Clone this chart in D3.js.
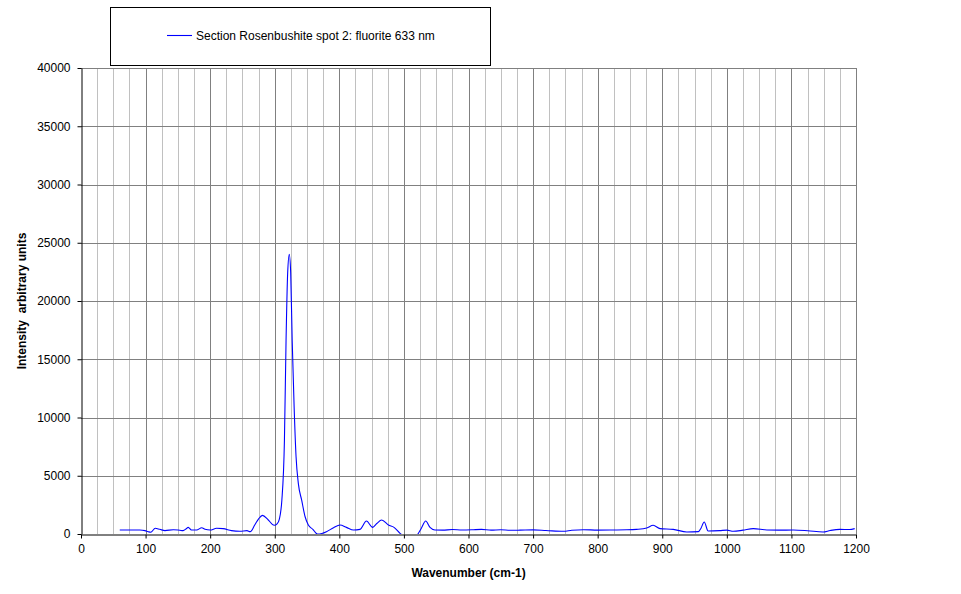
<!DOCTYPE html>
<html>
<head>
<meta charset="utf-8">
<script src="https://cdn.jsdelivr.net/npm/d3@7"></script>
<style>
  html, body { margin: 0; padding: 0; background: #fff; }
  svg { display: block; font-family: "Liberation Sans", Arial, sans-serif; }
</style>
</head>
<body>
<svg id="chart" width="961" height="594"></svg>
<script>
// ---- Data ----
const wavenumbers = [60, 75, 91, 99, 104, 108, 115, 122, 130, 143, 153, 158, 163, 166, 171, 179, 187, 192, 200, 210, 220, 233, 246, 257, 262, 269, 275, 281, 290, 299, 304, 307, 311, 315, 317.5, 320, 322.5, 324.7, 327, 330, 333, 336.5, 341.7, 347, 352, 359, 366, 373, 380, 391, 401, 411, 422, 432, 442, 451.6, 458, 465.6, 476, 484.7, 494, 500, 510, 521, 527, 533.7, 540.4, 548, 560, 575, 590, 605, 620, 635, 650, 665, 680, 700, 720, 747, 760, 778, 800, 824, 845, 860, 876, 886, 896.6, 917, 938, 956, 960, 965, 971, 989, 1000, 1010, 1025, 1041, 1062, 1080, 1103, 1125, 1149, 1160, 1175, 1190, 1198];
const intensities = [340, 340, 340, 290, 200, 150, 490, 400, 290, 370, 320, 290, 450, 570, 340, 340, 540, 400, 340, 490, 460, 290, 230, 290, 200, 770, 1300, 1600, 1200, 745, 900, 1260, 2900, 8070, 16600, 22400, 24000, 22400, 16600, 10900, 6630, 4350, 2900, 1480, 770, 400, 0, 50, 200, 540, 770, 570, 340, 400, 1110, 570, 900, 1200, 770, 570, 60, -200, -400, -50, 500, 1110, 570, 343, 330, 380, 340, 360, 400, 330, 360, 320, 330, 350, 300, 230, 320, 370, 330, 343, 360, 400, 515, 745, 460, 400, 170, 200, 500, 1030, 260, 290, 330, 230, 330, 460, 343, 330, 343, 280, 170, 300, 400, 380, 460];
const xTicks = [0, 100, 200, 300, 400, 500, 600, 700, 800, 900, 1000, 1100, 1200];
const yTicks = [0, 5000, 10000, 15000, 20000, 25000, 30000, 35000, 40000];
const seriesName = "Section Rosenbushite spot 2: fluorite 633 nm";
const xTitle = "Wavenumber (cm-1)";
const yTitle = "Intensity  arbitrary units";

// ---- Layout ----
const svg = d3.select("#chart");
const pL = 81, pR = 856, pT = 68, pB = 534;
const x = d3.scaleLinear().domain([0, 1200]).range([pL, pR]);
const y = d3.scaleLinear().domain([0, 40000]).range([pB, pT]);

// minor vertical gridlines every 25
const minor = d3.range(25, 1201, 25).filter(v => v % 100 !== 0);
svg.append("g").selectAll("line").data(minor).join("line")
  .attr("x1", d => Math.round(x(d)) + 0.5).attr("x2", d => Math.round(x(d)) + 0.5)
  .attr("y1", pT).attr("y2", pB)
  .attr("stroke", "#c0c0c0").attr("stroke-width", 1);
// major vertical gridlines
svg.append("g").selectAll("line").data(xTicks.filter(d => d > 0)).join("line")
  .attr("x1", d => Math.round(x(d)) + 0.5).attr("x2", d => Math.round(x(d)) + 0.5)
  .attr("y1", pT).attr("y2", pB)
  .attr("stroke", "#808080").attr("stroke-width", 1);
// horizontal gridlines
svg.append("g").selectAll("line").data(yTicks.filter(d => d > 0)).join("line")
  .attr("x1", pL).attr("x2", pR + 0.5)
  .attr("y1", d => Math.round(y(d)) + 0.5).attr("y2", d => Math.round(y(d)) + 0.5)
  .attr("stroke", "#808080").attr("stroke-width", 1);

// clip path for the series
svg.append("clipPath").attr("id", "plotclip")
  .append("rect").attr("x", pL).attr("y", pT).attr("width", pR - pL).attr("height", pB - pT);

const pts = wavenumbers.map((w, i) => [w, intensities[i]]);
const line = d3.line().x(d => x(d[0])).y(d => y(d[1])).curve(d3.curveMonotoneX);
svg.append("path").datum(pts)
  .attr("clip-path", "url(#plotclip)")
  .attr("d", line).attr("fill", "none")
  .attr("stroke", "#0000ff").attr("stroke-width", 1.1);

// axes
const xAxis = d3.axisBottom(x).tickValues(xTicks).tickSize(4).tickSizeOuter(0).tickFormat(d3.format("d"));
const gx = svg.append("g").attr("transform", `translate(0,${pB + 0.5})`).call(xAxis);
gx.attr("font-family", null).attr("font-size", null);
gx.selectAll("text").attr("font-size", 12).attr("fill", "#000").attr("dy", "0.95em");
gx.selectAll("line, path").attr("stroke", "#000");

const yAxis = d3.axisLeft(y).tickValues(yTicks).tickSize(4).tickSizeOuter(0).tickFormat(d3.format("d"));
const gy = svg.append("g").attr("transform", `translate(${pL + 0.5},0)`).call(yAxis);
gy.attr("font-family", null).attr("font-size", null);
gy.selectAll("text").attr("font-size", 12).attr("fill", "#000").attr("x", -11);
gy.selectAll("line, path").attr("stroke", "#000");

// axis titles
svg.append("text").attr("x", (pL + pR) / 2).attr("y", 577)
  .attr("text-anchor", "middle").attr("font-size", 12).attr("font-weight", "bold")
  .text(xTitle);
svg.append("text").attr("transform", `translate(26,${(pT + pB) / 2}) rotate(-90)`)
  .attr("text-anchor", "middle").attr("font-size", 12).attr("font-weight", "bold")
  .style("white-space", "pre")
  .text(yTitle);

// legend
svg.append("rect").attr("x", 110.5).attr("y", 7.5).attr("width", 380).attr("height", 58)
  .attr("fill", "#fff").attr("stroke", "#000").attr("stroke-width", 1);
svg.append("line").attr("x1", 167).attr("x2", 192).attr("y1", 35.5).attr("y2", 35.5)
  .attr("stroke", "#0000ff").attr("stroke-width", 1.1);
svg.append("text").attr("x", 196).attr("y", 40).attr("font-size", 12).text(seriesName);
</script>
</body>
</html>
